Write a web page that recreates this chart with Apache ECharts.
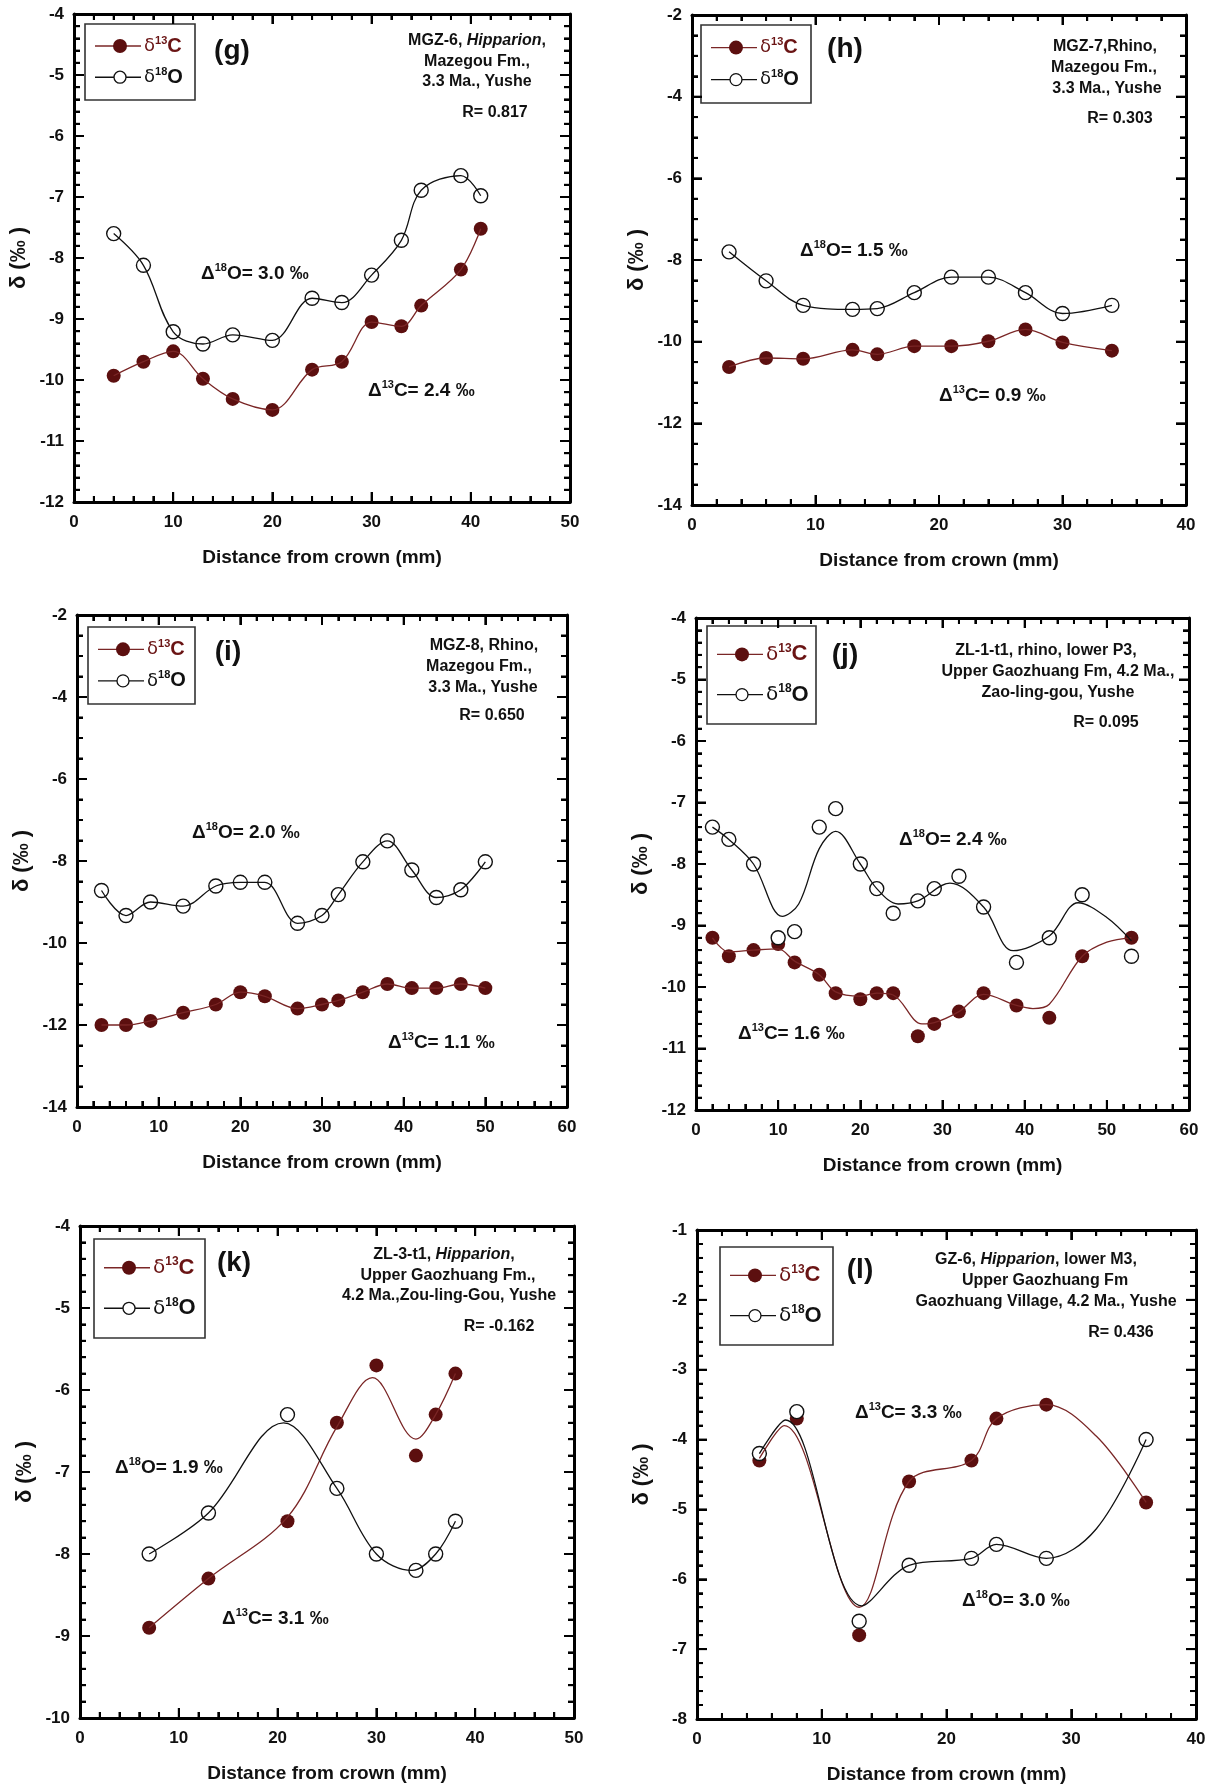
<!DOCTYPE html>
<html>
<head>
<meta charset="utf-8">
<script src="https://cdn.jsdelivr.net/npm/echarts@6/dist/echarts.min.js"></script>
<style>
  html, body { margin: 0; padding: 0; background: #fff; }
  #chart { width: 1215px; height: 1789px; }
</style>
</head>
<body>
<div id="chart"></div>
<script>
// (g) MGZ-6
var gDist = [4, 7, 10, 13, 16, 20, 24, 27, 30, 33, 35, 39, 41]
var gC13 = [-9.93, -9.7, -9.53, -9.98, -10.31, -10.49, -9.83, -9.7, -9.05, -9.12, -8.78, -8.19, -7.52]
var gO18 = [-7.6, -8.12, -9.21, -9.41, -9.26, -9.35, -8.66, -8.73, -8.28, -7.71, -6.89, -6.65, -6.98]
// (h) MGZ-7
var hDist = [3, 6, 9, 13, 15, 18, 21, 24, 27, 30, 34]
var hC13 = [-10.62, -10.4, -10.42, -10.2, -10.31, -10.11, -10.11, -9.99, -9.7, -10.02, -10.22]
var hO18 = [-7.8, -8.51, -9.11, -9.21, -9.19, -8.8, -8.42, -8.42, -8.8, -9.31, -9.11]
// (i) MGZ-8
var iDist = [3, 6, 9, 13, 17, 20, 23, 27, 30, 32, 35, 38, 41, 44, 47, 50]
var iC13 = [-12.0, -12.0, -11.9, -11.7, -11.5, -11.2, -11.3, -11.6, -11.5, -11.4, -11.2, -11.0, -11.1, -11.1, -11.0, -11.1]
var iO18 = [-8.72, -9.33, -9.0, -9.1, -8.61, -8.52, -8.52, -9.52, -9.33, -8.82, -8.02, -7.51, -8.22, -8.89, -8.7, -8.02]
// (j) ZL-1-t1
var jDist = [2, 4, 7, 10, 12, 15, 17, 20, 22, 24, 27, 29, 32, 35, 39, 43, 47, 53]
var jC13 = [-9.2, -9.5, -9.4, -9.3, -9.6, -9.8, -10.1, -10.2, -10.1, -10.1, -10.8, -10.6, -10.4, -10.1, -10.3, -10.5, -9.5, -9.2]
var jO18 = [-7.4, -7.6, -8.0, -9.2, -9.1, -7.4, -7.1, -8.0, -8.4, -8.8, -8.6, -8.4, -8.2, -8.7, -9.6, -9.2, -8.5, -9.5]
// fitted curves of (j) (they do not pass through every point)
var jCurveC = [[2, -9.2], [4, -9.43], [7, -9.4], [10, -9.38], [12, -9.58], [15, -9.8], [17, -10.08], [20, -10.15], [22, -10.1], [24, -10.13], [27.5, -10.6], [29, -10.58], [32, -10.4], [35, -10.12], [39, -10.3], [41, -10.35], [43, -10.28], [47, -9.5], [50, -9.27], [53, -9.2]]
var jCurveO = [[2, -7.4], [4, -7.6], [7, -8.0], [10.5, -8.85], [12.5, -8.65], [15, -7.75], [17, -7.47], [20, -8.0], [22, -8.4], [24.6, -8.65], [27, -8.6], [30.9, -8.31], [35, -8.7], [38.6, -9.41], [43, -9.17], [46.5, -8.63], [50, -8.87], [53, -9.25]]
// (k) ZL-3-t1
var kDist = [7, 13, 21, 26, 30, 34, 36, 38]
var kC13 = [-8.9, -8.3, -7.6, -6.4, -5.7, -6.8, -6.3, -5.8]
var kO18 = [-8.0, -7.5, -6.3, -7.2, -8.0, -8.2, -8.0, -7.6]
var kCurveC = [[7, -8.9], [13, -8.3], [21, -7.55], [26, -6.45], [29.6, -5.85], [34, -6.6], [36, -6.3], [38, -5.8]]
var kCurveO = [[7, -8.0], [13, -7.5], [20.6, -6.4], [26, -7.2], [30, -8.0], [33.6, -8.2], [36, -8.0], [38, -7.6]]
// (l) GZ-6
var lDist = [5, 8, 13, 17, 22, 24, 28, 36]
var lC13 = [-4.3, -3.7, -6.8, -4.6, -4.3, -3.7, -3.5, -4.9]
var lO18 = [-4.2, -3.6, -6.6, -5.8, -5.7, -5.5, -5.7, -4.0]
var lCurveC = [[5, -4.27], [7, -3.8], [13, -6.4], [17, -4.6], [22, -4.3], [24, -3.7], [28, -3.5], [32, -3.95], [36, -4.9]]
var lCurveO = [[5, -4.2], [7.1, -3.72], [13.2, -6.38], [17, -5.8], [22, -5.7], [24, -5.5], [28, -5.7], [32, -5.28], [36, -4.0]]

var FONT = '"Liberation Sans", Arial, Helvetica, sans-serif'
var RED = '#5c0f0f'
var RED_LINE = '#7a2626'

var panels = [
  { tag: '(g)', dist: gDist, c: gC13, o: gO18, xMax: 50, yMin: -12, yMax: -4, yStep: 1, yMinor: 5,
    box: [74, 14, 570, 502], leg: [85, 24, 195, 100], legFont: 18, tagPos: [232, 51],
    info: [['MGZ-6, {i|Hipparion},', 477, 41], ['Mazegou Fm.,', 477, 62], ['3.3 Ma., Yushe', 477, 82]],
    r: ['R= 0.817', 495, 113], dO: ['3.0', 201, 274], dC: ['2.4', 368, 391] },
  { tag: '(h)', dist: hDist, c: hC13, o: hO18, xMax: 40, yMin: -14, yMax: -2, yStep: 2, yMinor: 4,
    box: [692, 15, 1186, 505], leg: [701, 25, 811, 103], legFont: 18, tagPos: [845, 49],
    info: [['MGZ-7,Rhino,', 1105, 47], ['Mazegou Fm.,', 1104, 68], ['3.3 Ma., Yushe', 1107, 89]],
    r: ['R= 0.303', 1120, 119], dO: ['1.5', 800, 251], dC: ['0.9', 939, 396] },
  { tag: '(i)', dist: iDist, c: iC13, o: iO18, xMax: 60, yMin: -14, yMax: -2, yStep: 2, yMinor: 4,
    box: [77, 615, 567, 1107], leg: [88, 627, 195, 704], legFont: 18, tagPos: [228, 652],
    info: [['MGZ-8, Rhino,', 484, 646], ['Mazegou Fm.,', 479, 667], ['3.3 Ma., Yushe', 483, 688]],
    r: ['R= 0.650', 492, 716], dO: ['2.0', 192, 833], dC: ['1.1', 388, 1043] },
  { tag: '(j)', dist: jDist, c: jC13, o: jO18, curveC: jCurveC, curveO: jCurveO, xMax: 60, yMin: -12, yMax: -4, yStep: 1, yMinor: 5,
    box: [696, 618, 1189, 1110], leg: [707, 626, 816, 724], legFont: 20, tagPos: [845, 655],
    info: [['ZL-1-t1, rhino, lower P3,', 1046, 651], ['Upper Gaozhuang Fm, 4.2 Ma.,', 1058, 672], ['Zao-ling-gou, Yushe', 1058, 693]],
    r: ['R= 0.095', 1106, 723], dO: ['2.4', 899, 840], dC: ['1.6', 738, 1034] },
  { tag: '(k)', dist: kDist, c: kC13, o: kO18, curveC: kCurveC, curveO: kCurveO, xMax: 50, yMin: -10, yMax: -4, yStep: 1, yMinor: 5,
    box: [80, 1226, 574, 1718], leg: [94, 1239, 205, 1338], legFont: 20, tagPos: [234, 1263],
    info: [['ZL-3-t1, {i|Hipparion},', 444, 1255], ['Upper Gaozhuang Fm.,', 448, 1276], ['4.2 Ma.,Zou-ling-Gou, Yushe', 449, 1296]],
    r: ['R= -0.162', 499, 1327], dO: ['1.9', 115, 1468], dC: ['3.1', 222, 1619] },
  { tag: '(l)', dist: lDist, c: lC13, o: lO18, curveC: lCurveC, curveO: lCurveO, xMax: 40, yMin: -8, yMax: -1, yStep: 1, yMinor: 5,
    box: [697, 1230, 1196, 1719], leg: [720, 1247, 833, 1345], legFont: 20, tagPos: [860, 1270],
    info: [['GZ-6, {i|Hipparion}, lower M3,', 1036, 1260], ['Upper Gaozhuang Fm', 1045, 1281], ['Gaozhuang Village, 4.2 Ma., Yushe', 1046, 1302]],
    r: ['R= 0.436', 1121, 1333], dO: ['3.0', 962, 1601], dC: ['3.3', 855, 1413] }
]

function pts(xs, ys) {
  return xs.map(function(x, i) { return [x, ys[i]] })
}

function tokenStyle(size, color, extra) {
  var s = { fontSize: size, fontWeight: 'bold', fontFamily: FONT, fill: color || '#111' }
  for (var k in extra) s[k] = extra[k]
  return s
}

// frame axis of a panel: box round every panel, ticks pointing in
function frameAxis(n, pos, min, max, step, minorSplit, withLabel) {
  var ax = {
    gridIndex: n, type: 'value', position: pos, min: min, max: max, interval: step,
    axisLine: { show: true, onZero: false, lineStyle: { color: '#000', width: 3 } },
    axisTick: { show: true, inside: true, length: 10, lineStyle: { color: '#000', width: 2 } },
    minorTick: { show: true, splitNumber: minorSplit, length: 6, lineStyle: { color: '#000', width: 2 } },
    splitLine: { show: false },
    axisLabel: { show: false }
  }
  if (withLabel) {
    ax.axisLabel = { show: true, margin: pos === 'left' ? 10 : 12, showMinLabel: true, showMaxLabel: true,
      fontSize: 17, fontWeight: 'bold', fontFamily: FONT, color: '#111' }
  }
  return ax
}

var grids = []
var xAxes = []
var yAxes = []
var series = []
var graphics = []

panels.forEach(function(p, n) {
  grids.push({ left: p.box[0], top: p.box[1], width: p.box[2] - p.box[0], height: p.box[3] - p.box[1] })

  var xb = frameAxis(n, 'bottom', 0, p.xMax, 10, 5, true)
  xb.name = 'Distance from crown (mm)'
  xb.nameLocation = 'middle'
  xb.nameGap = 46
  xb.nameTextStyle = { fontSize: 19, fontWeight: 'bold', fontFamily: FONT, color: '#111' }
  xAxes.push(xb)
  xAxes.push(frameAxis(n, 'top', 0, p.xMax, 10, 5, false))

  var yl = frameAxis(n, 'left', p.yMin, p.yMax, p.yStep, p.yMinor, true)
  yl.name = 'δ (‰ )'
  yl.nameLocation = 'middle'
  yl.nameGap = 44
  yl.nameRotate = 90
  yl.nameTextStyle = { fontSize: 22, fontWeight: 'bold', fontFamily: FONT, color: '#111' }
  yAxes.push(yl)
  yAxes.push(frameAxis(n, 'right', p.yMin, p.yMax, p.yStep, p.yMinor, false))

  var ptsC = pts(p.dist, p.c)
  var ptsO = pts(p.dist, p.o)
  series.push({
    type: 'line', xAxisIndex: 2 * n, yAxisIndex: 2 * n, data: p.curveC || ptsC,
    smooth: 0.35, symbol: 'none', silent: true, lineStyle: { color: RED_LINE, width: 1.3 }
  })
  series.push({
    type: 'line', xAxisIndex: 2 * n, yAxisIndex: 2 * n, data: p.curveO || ptsO,
    smooth: 0.35, symbol: 'none', silent: true, lineStyle: { color: '#111', width: 1.3 }
  })
  series.push({
    type: 'scatter', xAxisIndex: 2 * n, yAxisIndex: 2 * n, data: ptsC, symbol: 'circle', symbolSize: 14,
    silent: true, itemStyle: { color: RED, opacity: 1 }
  })
  series.push({
    type: 'scatter', xAxisIndex: 2 * n, yAxisIndex: 2 * n, data: ptsO, symbol: 'circle', symbolSize: 14,
    silent: true, itemStyle: { color: '#fff', borderColor: '#111', borderWidth: 1.4, opacity: 1 }
  })

  // legend box
  var L = p.leg
  var h = L[3] - L[1]
  var rows = [L[1] + h * 0.29, L[1] + h * 0.70]
  var fs = p.legFont
  graphics.push({ type: 'rect', shape: { x: L[0], y: L[1], width: L[2] - L[0], height: h },
    style: { fill: '#fff', stroke: '#333', lineWidth: 1.6 } })
  graphics.push({ type: 'line', shape: { x1: L[0] + 10, y1: rows[0], x2: L[0] + 56, y2: rows[0] },
    style: { stroke: RED_LINE, lineWidth: 1.4 } })
  graphics.push({ type: 'circle', shape: { cx: L[0] + 35, cy: rows[0], r: 7 },
    style: { fill: RED } })
  graphics.push({ type: 'line', shape: { x1: L[0] + 10, y1: rows[1], x2: L[0] + 56, y2: rows[1] },
    style: { stroke: '#111', lineWidth: 1.4 } })
  graphics.push({ type: 'circle', shape: { cx: L[0] + 35, cy: rows[1], r: 6 },
    style: { fill: '#fff', stroke: '#111', lineWidth: 1.3 } })
  var legRich = function(color) {
    return {
      d: tokenStyle(fs, color, { fontWeight: 'normal', fontFamily: '"DejaVu Sans", sans-serif', lineHeight: fs + 4 }),
      s: tokenStyle(Math.round(fs * 0.6), color, { verticalAlign: 'top', lineHeight: fs + 4 }),
      m: tokenStyle(fs + 2, color, { lineHeight: fs + 4 })
    }
  }
  graphics.push({ type: 'text', x: L[0] + 59, y: rows[0],
    style: { text: '{d|δ}{s|13}{m|C}', align: 'left', verticalAlign: 'middle', rich: legRich('#6a1414') } })
  graphics.push({ type: 'text', x: L[0] + 59, y: rows[1],
    style: { text: '{d|δ}{s|18}{m|O}', align: 'left', verticalAlign: 'middle', rich: legRich('#111') } })

  // panel tag
  graphics.push({ type: 'text', x: p.tagPos[0], y: p.tagPos[1],
    style: Object.assign({ text: p.tag, align: 'center', verticalAlign: 'middle' }, tokenStyle(28)) })

  // sample description
  p.info.forEach(function(line) {
    graphics.push({ type: 'text', x: line[1], y: line[2],
      style: Object.assign({ text: line[0], align: 'center', verticalAlign: 'middle',
        rich: { i: tokenStyle(16, '#111', { fontStyle: 'italic' }) } }, tokenStyle(16)) })
  })
  graphics.push({ type: 'text', x: p.r[1], y: p.r[2],
    style: Object.assign({ text: p.r[0], align: 'center', verticalAlign: 'middle' }, tokenStyle(16)) })

  // isotope ranges
  var deltaRich = {
    a: tokenStyle(19, '#111', { lineHeight: 24 }),
    s: tokenStyle(11, '#111', { verticalAlign: 'top', lineHeight: 24 })
  }
  graphics.push({ type: 'text', x: p.dO[1], y: p.dO[2],
    style: { text: '{a|Δ}{s|18}{a|O= ' + p.dO[0] + ' ‰}', align: 'left', verticalAlign: 'middle', rich: deltaRich } })
  graphics.push({ type: 'text', x: p.dC[1], y: p.dC[2],
    style: { text: '{a|Δ}{s|13}{a|C= ' + p.dC[0] + ' ‰}', align: 'left', verticalAlign: 'middle', rich: deltaRich } })
})

var chart = echarts.init(document.getElementById('chart'))
chart.setOption({
  animation: false,
  grid: grids,
  xAxis: xAxes,
  yAxis: yAxes,
  series: series
})

// inward tick marks on all four sides, placed through the axes' own scales
function tick(x1, y1, x2, y2) {
  return { type: 'line', silent: true, shape: { x1: x1, y1: y1, x2: x2, y2: y2 },
    style: { stroke: '#000', lineWidth: 2 } }
}
panels.forEach(function(p, n) {
  var xA = { xAxisIndex: 2 * n }
  var yA = { yAxisIndex: 2 * n }
  var left = chart.convertToPixel(xA, 0)
  var right = chart.convertToPixel(xA, p.xMax)
  var bottom = chart.convertToPixel(yA, p.yMin)
  var top = chart.convertToPixel(yA, p.yMax)
  var k, v, px, len
  for (k = 1; k < p.xMax / 2; k++) {
    v = k * 2
    px = chart.convertToPixel(xA, v)
    len = v % 10 === 0 ? 10 : 6
    graphics.push(tick(px, bottom, px, bottom - len))
    graphics.push(tick(px, top, px, top + len))
  }
  var step = p.yStep / p.yMinor
  var count = Math.round((p.yMax - p.yMin) / step)
  for (k = 1; k < count; k++) {
    v = p.yMin + k * step
    px = chart.convertToPixel(yA, v)
    len = k % p.yMinor === 0 ? 10 : 6
    graphics.push(tick(left, px, left + len, px))
    graphics.push(tick(right, px, right - len, px))
  }
})
chart.setOption({ graphic: graphics })
</script>
</body>
</html>
